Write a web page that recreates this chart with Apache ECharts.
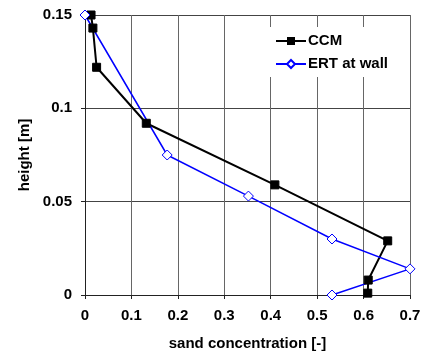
<!DOCTYPE html>
<html>
<head>
<meta charset="utf-8">
<script src="https://cdn.jsdelivr.net/npm/echarts@6/dist/echarts.min.js"></script>
<style>
  html, body { margin: 0; padding: 0; background: #fff; }
  #chart { width: 433px; height: 356px; }
</style>
</head>
<body>
<div id="chart"></div>
<script>
  // values
  var ccmX = [0.013, 0.017, 0.025, 0.132, 0.409, 0.652, 0.610, 0.609];
  var ccmY = [0.150, 0.143, 0.122, 0.092, 0.059, 0.029, 0.008, 0.001];
  var ertX = [0.000, 0.177, 0.352, 0.532, 0.700, 0.532];
  var ertY = [0.150, 0.075, 0.053, 0.030, 0.014, 0.000];
  var xTicks = { min: 0, max: 0.7, interval: 0.1 };
  var yTicks = { min: 0, max: 0.15, interval: 0.05 };

  function pairs(xs, ys) {
    return xs.map(function(x, i) { return [x, ys[i]]; });
  }

  var font = 'Liberation Sans, Arial, sans-serif';
  var chart = echarts.init(document.getElementById('chart'), null, { renderer: 'canvas' });
  var option = {
    animation: false,
    textStyle: { fontFamily: font },
    grid: { left: 85, right: 23, top: 15, bottom: 59, containLabel: false },
    legend: {
      orient: 'vertical',
      left: 270,
      top: 27,
      backgroundColor: '#fff',
      padding: [5, 14, 4, 5],
      itemWidth: 30,
      itemHeight: 10,
      itemGap: 5,
      textStyle: { fontFamily: font, fontWeight: 'bold', fontSize: 15, color: '#000', lineHeight: 18, padding: [0, 0, 0, -3] },
      data: ['CCM', 'ERT at wall']
    },
    xAxis: {
      type: 'value',
      min: xTicks.min, max: xTicks.max, interval: xTicks.interval,
      name: 'sand concentration [-]',
      nameLocation: 'middle',
      nameGap: 41,
      nameTextStyle: { fontFamily: font, fontWeight: 'bold', fontSize: 15, color: '#000' },
      axisLine: { show: true, lineStyle: { color: '#222', width: 1 } },
      axisTick: { show: true, length: 4, lineStyle: { color: '#222' } },
      axisLabel: { fontFamily: font, fontWeight: 'bold', fontSize: 15, color: '#000', margin: 13 },
      splitLine: { show: true, lineStyle: { color: '#666', width: 1 } }
    },
    yAxis: {
      type: 'value',
      min: yTicks.min, max: yTicks.max, interval: yTicks.interval,
      name: 'height [m]',
      nameLocation: 'middle',
      nameGap: 50,
      nameTextStyle: { fontFamily: font, fontWeight: 'bold', fontSize: 15, color: '#000' },
      axisLine: { show: true, lineStyle: { color: '#222', width: 1 } },
      axisTick: { show: true, length: 4, lineStyle: { color: '#222' } },
      axisLabel: { fontFamily: font, fontWeight: 'bold', fontSize: 15, color: '#000', margin: 13 },
      splitLine: { show: true, lineStyle: { color: '#444', width: 1 } }
    },
    series: [
      {
        name: 'CCM',
        type: 'line',
        data: pairs(ccmX, ccmY),
        symbol: 'rect',
        symbolSize: 8,
        showAllSymbol: true,
        clip: false,
        lineStyle: { color: '#000', width: 2 },
        itemStyle: { color: '#000', borderColor: '#000' }
      },
      {
        name: 'ERT at wall',
        type: 'line',
        data: pairs(ertX, ertY),
        symbol: 'diamond',
        symbolSize: 10,
        showAllSymbol: true,
        clip: false,
        lineStyle: { color: '#0000ff', width: 1.5 },
        itemStyle: { color: '#fff', borderColor: '#0000ff', borderWidth: 1 }
      }
    ]
  };
  chart.setOption(option);
  window.addEventListener('resize', function() { chart.resize(); });
</script>
</body>
</html>
